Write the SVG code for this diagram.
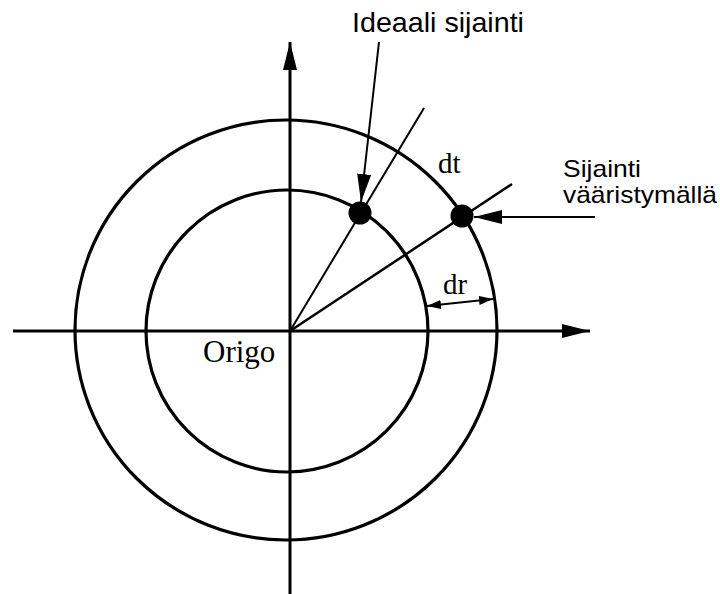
<svg xmlns="http://www.w3.org/2000/svg" width="720" height="594" viewBox="0 0 720 594">
<style>
.ln{stroke:#000;fill:none}
.sans{font-family:"Liberation Sans",Arial,sans-serif;fill:#000}
.serif{font-family:"Liberation Serif","Times New Roman",serif;fill:#000}
</style>
<defs>
<marker id="ah" markerWidth="28" markerHeight="14" refX="28" refY="7" orient="auto" markerUnits="userSpaceOnUse">
<path d="M0,0 L28,7 L0,14 Z" fill="#000"/>
</marker>
<marker id="ahs" markerWidth="14" markerHeight="9" refX="14" refY="4.5" orient="auto" markerUnits="userSpaceOnUse">
<path d="M0,0 L14,4.5 L0,9 Z" fill="#000"/>
</marker>
<marker id="ahs0" markerWidth="14" markerHeight="9" refX="0" refY="4.5" orient="auto" markerUnits="userSpaceOnUse">
<path d="M14,0 L0,4.5 L14,9 Z" fill="#000"/>
</marker>
</defs>
<rect width="720" height="594" fill="#fff"/>
<g id="circles">
<ellipse id="outer" class="ln" cx="286" cy="330" rx="211" ry="210" stroke-width="3.2"/>
<circle id="inner" class="ln" cx="287" cy="331" r="141" stroke-width="3.2"/>
</g>
<g id="connectors">
<line class="ln" x1="13" y1="331" x2="590" y2="331" stroke-width="3" marker-end="url(#ah)"/>
<line class="ln" x1="290" y1="594" x2="290" y2="42" stroke-width="3" marker-end="url(#ah)"/>
<line class="ln" x1="290" y1="331" x2="424" y2="108" stroke-width="2"/>
<line class="ln" x1="290" y1="331" x2="512" y2="184" stroke-width="2.5"/>
<line class="ln" x1="379" y1="42" x2="361" y2="202" stroke-width="2" marker-end="url(#ah)"/>
<line class="ln" x1="595" y1="217" x2="474" y2="217" stroke-width="2" marker-end="url(#ah)"/>
<line class="ln" x1="427" y1="306" x2="493" y2="299" stroke-width="2" marker-start="url(#ahs0)" marker-end="url(#ahs)"/>
</g>
<g id="ideal">
<circle cx="360" cy="213" r="11.5" fill="#000"/>
</g>
<g id="distorted">
<circle cx="462" cy="216" r="11.5" fill="#000"/>
</g>
<g id="labels">
<text class="sans" x="352" y="32" font-size="28" textLength="172" lengthAdjust="spacingAndGlyphs">Ideaali sijainti</text>
<text class="sans" x="563" y="177" font-size="24" textLength="78" lengthAdjust="spacingAndGlyphs">Sijainti</text>
<text class="sans" x="563" y="203" font-size="24" textLength="154" lengthAdjust="spacingAndGlyphs">vääristymällä</text>
<text class="serif" x="438" y="173" font-size="29">dt</text>
<text class="serif" x="443" y="294" font-size="29">dr</text>
<text class="serif" x="203" y="362" font-size="31">Origo</text>
</g>
</svg>
